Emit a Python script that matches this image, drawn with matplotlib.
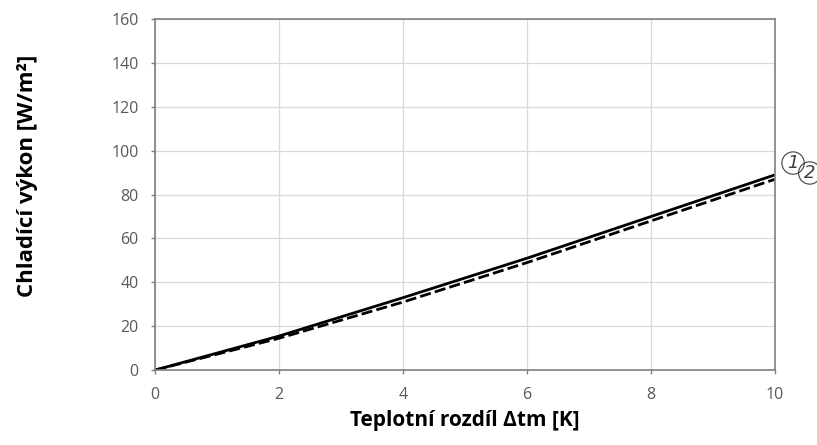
import matplotlib
matplotlib.use('Agg')
import matplotlib.pyplot as plt

# data
dt = [0, 2, 4, 6, 8, 10]
q1 = [0, 15.5, 33, 51, 70, 89]     # curve 1 (solid)
q2 = [0, 14.5, 31, 49, 68, 87]     # curve 2 (dashed)
xticks = [0, 2, 4, 6, 8, 10]
yticks = [0, 20, 40, 60, 80, 100, 120, 140, 160]

fig = plt.figure(figsize=(8.17, 4.45), dpi=100)
ax = fig.add_axes([0.19, 0.1685, 0.7586, 0.7885])

ax.plot(dt, q1, color='black', lw=2.0, solid_capstyle='butt')
ax.plot(dt, q2, color='black', lw=2.0, ls=(0, (4, 1.5)))

ax.set_xlim(0, 10)
ax.set_ylim(0, 160)
ax.set_xticks(xticks)
ax.set_yticks(yticks)
ax.grid(True, color='#d9d9d9', lw=0.9)
ax.set_axisbelow(True)

for s in ax.spines.values():
	s.set_color('#7f7f7f')
	s.set_linewidth(1.2)

ax.tick_params(colors='#7f7f7f', labelcolor='#595959', labelsize=11.5, length=3, width=1, pad=9)
for lab in ax.get_xticklabels() + ax.get_yticklabels():
	lab.set_family('Open Sans')

ax.set_xlabel('Teplotní rozdíl Δtm [K]', fontsize=15, fontweight='bold', family='Open Sans', labelpad=5)
ax.set_ylabel('Chladící výkon [W/m²]', fontsize=16, fontweight='bold', family='Open Sans')
ax.yaxis.set_label_coords(-117 / 620, 0.553)

# circled curve numbers at the right edge
circ = dict(boxstyle='circle,pad=0.12', fc='none', ec='#404040', lw=0.8)
ax.annotate('1', xy=(10, q1[-1]), xytext=(13, 8.5), textcoords='offset points', ha='center', va='center',
	fontsize=13, style='italic', color='#404040', bbox=circ, annotation_clip=False)
ax.annotate('2', xy=(10, q2[-1]), xytext=(25, 4.5), textcoords='offset points', ha='center', va='center',
	fontsize=13, style='italic', color='#404040', bbox=circ, annotation_clip=False)

fig.savefig('out.png', dpi=100)
